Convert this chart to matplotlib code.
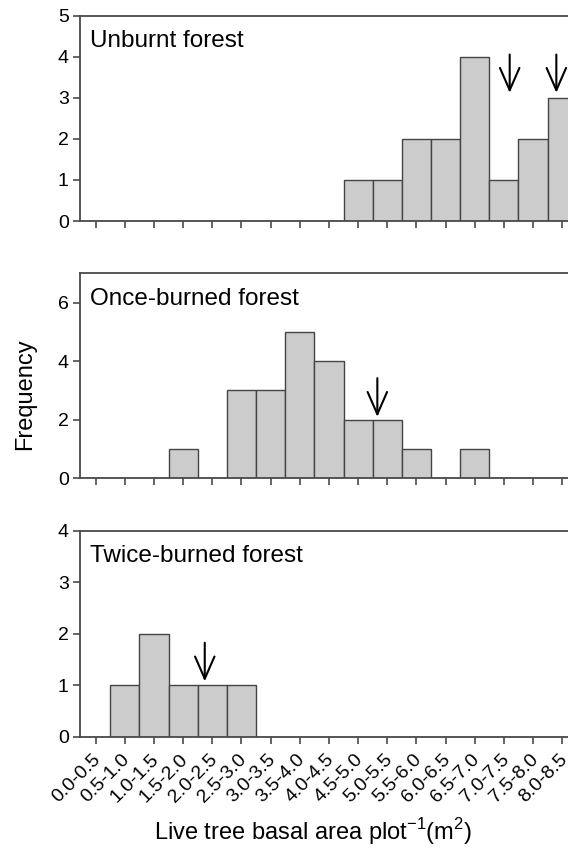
import numpy as np
import matplotlib
matplotlib.use('Agg')
import matplotlib.pyplot as plt

plt.rcParams['font.family'] = ['Liberation Sans', 'DejaVu Sans']
plt.rcParams['mathtext.fontset'] = 'custom'
plt.rcParams['mathtext.rm'] = 'Liberation Sans'

# basal area classes (m2 per plot)
classes = ['0.0-0.5', '0.5-1.0', '1.0-1.5', '1.5-2.0', '2.0-2.5', '2.5-3.0',
           '3.0-3.5', '3.5-4.0', '4.0-4.5', '4.5-5.0', '5.0-5.5', '5.5-6.0',
           '6.0-6.5', '6.5-7.0', '7.0-7.5', '7.5-8.0', '8.0-8.5']

unburnt = [0, 0, 0, 0, 0, 0, 0, 0, 0, 1, 1, 2, 2, 4, 1, 2, 3]
once_burned = [0, 0, 0, 1, 0, 3, 3, 5, 4, 2, 2, 1, 0, 1, 0, 0, 0]
twice_burned = [0, 1, 2, 1, 1, 1, 0, 0, 0, 0, 0, 0, 0, 0, 0, 0, 0]

titles = ['Unburnt forest', 'Once-burned forest', 'Twice-burned forest']
ymax = [5, 7, 4]
ystep = [1, 2, 1]

# mean markers, in class-index units: (x, arrow tip, arrow tail)
arrows_unburnt = [(14.2, 3.12, 4.05), (15.8, 3.12, 4.05)]
arrows_once = [(9.66, 2.1, 3.42)]
arrows_twice = [(3.74, 1.08, 1.83)]

fig = plt.figure(figsize=(5.68, 8.52), dpi=100)

positions = [[0.1408, 0.7406, 0.8592, 0.2412],
             [0.1408, 0.4386, 0.8592, 0.2406],
             [0.1408, 0.1350, 0.8592, 0.2418]]

data = [unburnt, once_burned, twice_burned]
arrows = [arrows_unburnt, arrows_once, arrows_twice]
spine_col = '#4a4a4a'
x = np.arange(len(classes))

for i in range(3):
    ax = fig.add_axes(positions[i])
    ax.bar(x, data[i], width=1.0, color='#cccccc', edgecolor='#444444', linewidth=1.0)

    ax.set_xlim(-0.54, 16.2)
    ax.set_ylim(0, ymax[i])
    ax.set_yticks(np.arange(0, ymax[i] + 0.1, ystep[i]))
    ax.set_xticks(x)
    ax.set_xticklabels([])

    if i == 2:
        # rotated class labels, placed under each tick and nudged left a bit
        for xi, lab in zip(x, classes):
            ax.annotate(lab, xy=(xi, 0), xycoords=('data', 'axes fraction'),
                        xytext=(-2.5, -10), textcoords='offset points',
                        rotation=45, ha='right', va='top',
                        rotation_mode='anchor', fontsize=14, annotation_clip=False)

    ax.spines['right'].set_visible(False)
    for s in ['left', 'top', 'bottom']:
        ax.spines[s].set_color(spine_col)
        ax.spines[s].set_linewidth(1.3)
    ax.tick_params(axis='both', direction='out', length=5, width=1.2,
                   color=spine_col, labelsize=14, pad=3)

    ax.text(0.02, 0.93, titles[i], transform=ax.transAxes, fontsize=17.5,
            ha='left', va='top')

    for ax_x, tip, tail in arrows[i]:
        ax.annotate('', xy=(ax_x, tip), xytext=(ax_x, tail),
                    arrowprops=dict(arrowstyle='->,head_length=0.8,head_width=0.35',
                                    mutation_scale=20, lw=1.5, color='black',
                                    shrinkA=0, shrinkB=0))

fig.text(25 / 568, 0.5376, 'Frequency', rotation=90, ha='center', va='center', fontsize=17)
fig.text(313 / 568, 1 - 832 / 852,
         r'Live tree basal area plot$^{\mathregular{-1}}$(m$^{\mathregular{2}}$)',
         ha='center', va='center', fontsize=17)

plt.savefig('out.png', dpi=100)
